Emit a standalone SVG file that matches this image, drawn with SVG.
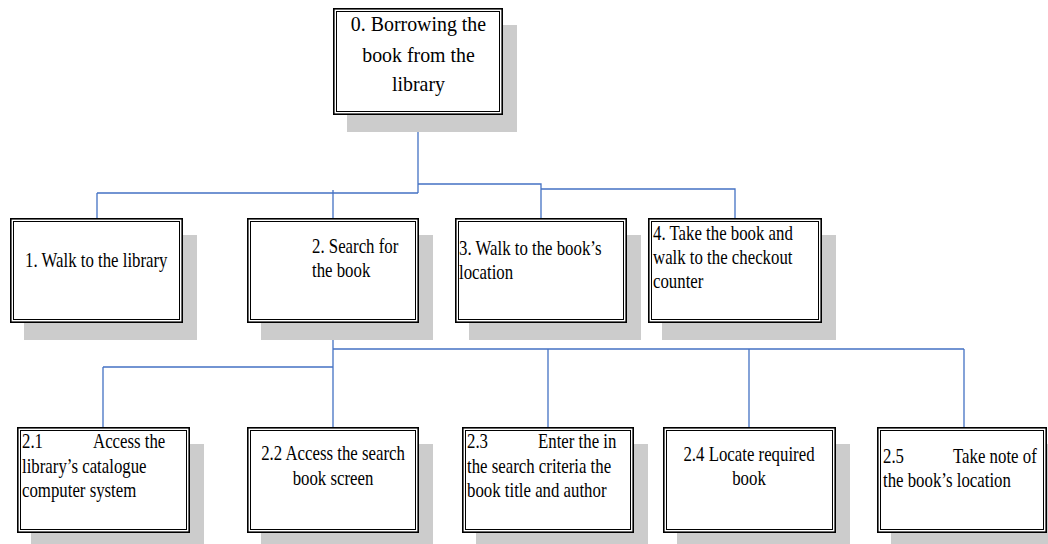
<svg xmlns="http://www.w3.org/2000/svg" width="1048" height="544" viewBox="0 0 1048 544">
<style>
.sh{fill:#cccccc;stroke:none}
.ob{fill:#ffffff;stroke:#000000;stroke-width:1.6}
.ib{fill:none;stroke:#000000;stroke-width:1}
.t{font-family:"Liberation Serif","Times New Roman",serif;font-size:20.5px;fill:#000000}
.r{font-family:"Liberation Serif","Times New Roman",serif;font-size:20.5px;fill:#000000;text-anchor:middle}
.c{text-anchor:middle}
.ln{fill:none;stroke:#4472c4;stroke-width:1.3}
</style>
<rect width="1048" height="544" fill="#ffffff"/>
<g id="connectors">
<path class="ln" d="M418 115V193M97 193H418M97 193V218M333 190V218M418 184H541V218M541 189H735V218"/>
<path class="ln" d="M333 323V427M333 349H964M103 367H333M103 367V427M548 349V427M749 349V427M964 349V427"/>
</g>
<g id="n0">
<rect class="sh" x="347" y="25" width="170" height="107"/>
<rect class="ob" x="333.8" y="8.8" width="168.4" height="105.4"/>
<rect class="ib" x="336.5" y="11.5" width="163" height="100"/>
<text class="r" transform="translate(418.5,0) scale(0.97,1)"><tspan x="0" y="31">0. Borrowing the</tspan><tspan x="0" y="62">book from the</tspan><tspan x="0" y="91">library</tspan></text>
</g>
<g id="n1">
<rect class="sh" x="24" y="235" width="173" height="105"/>
<rect class="ob" x="10.8" y="218.8" width="171.4" height="103.4"/>
<rect class="ib" x="13.5" y="221.5" width="166" height="98"/>
<text class="t" transform="translate(25,0) scale(0.82,1)"><tspan x="0" y="267">1. Walk to the library</tspan></text>
</g>
<g id="n2">
<rect class="sh" x="261" y="235" width="172" height="105"/>
<rect class="ob" x="247.8" y="218.8" width="170.4" height="103.4"/>
<rect class="ib" x="250.5" y="221.5" width="165" height="98"/>
<text class="t" transform="translate(312,0) scale(0.82,1)"><tspan x="0" y="253">2. Search for</tspan><tspan x="0" y="277">the book</tspan></text>
</g>
<g id="n3">
<rect class="sh" x="469" y="235" width="172" height="105"/>
<rect class="ob" x="455.8" y="218.8" width="170.4" height="103.4"/>
<rect class="ib" x="458.5" y="221.5" width="165" height="98"/>
<text class="t" transform="translate(459,0) scale(0.82,1)"><tspan x="0" y="255">3. Walk to the book’s</tspan><tspan x="0" y="279">location</tspan></text>
</g>
<g id="n4">
<rect class="sh" x="662" y="235" width="174" height="105"/>
<rect class="ob" x="648.8" y="218.8" width="172.4" height="103.4"/>
<rect class="ib" x="651.5" y="221.5" width="167" height="98"/>
<text class="t" transform="translate(653,0) scale(0.82,1)"><tspan x="0" y="240">4. Take the book and</tspan><tspan x="0" y="264">walk to the checkout</tspan><tspan x="0" y="288">counter</tspan></text>
</g>
<g id="n21">
<rect class="sh" x="31" y="444" width="173" height="106"/>
<rect class="ob" x="17.8" y="427.8" width="171.4" height="104.4"/>
<rect class="ib" x="20.5" y="430.5" width="166" height="99"/>
<text class="t" transform="translate(22,0) scale(0.82,1)"><tspan x="0" y="448">2.1</tspan><tspan x="86.6" y="448">Access the</tspan><tspan x="0" y="473">library’s catalogue</tspan><tspan x="0" y="497">computer system</tspan></text>
</g>
<g id="n22">
<rect class="sh" x="261" y="444" width="172" height="106"/>
<rect class="ob" x="247.8" y="427.8" width="170.4" height="104.4"/>
<rect class="ib" x="250.5" y="430.5" width="165" height="99"/>
<text class="t c" transform="translate(333,0) scale(0.82,1)"><tspan x="0" y="460">2.2 Access the search</tspan><tspan x="0" y="485">book screen</tspan></text>
</g>
<g id="n23">
<rect class="sh" x="476" y="444" width="172" height="106"/>
<rect class="ob" x="462.8" y="427.8" width="170.4" height="104.4"/>
<rect class="ib" x="465.5" y="430.5" width="165" height="99"/>
<text class="t" transform="translate(467,0) scale(0.82,1)"><tspan x="0" y="448">2.3</tspan><tspan x="86.6" y="448">Enter the in</tspan><tspan x="0" y="473">the search criteria the</tspan><tspan x="0" y="497">book title and author</tspan></text>
</g>
<g id="n24">
<rect class="sh" x="677" y="444" width="173" height="106"/>
<rect class="ob" x="663.8" y="427.8" width="171.4" height="104.4"/>
<rect class="ib" x="666.5" y="430.5" width="166" height="99"/>
<text class="t c" transform="translate(749,0) scale(0.82,1)"><tspan x="0" y="461">2.4 Locate required</tspan><tspan x="0" y="485">book</tspan></text>
</g>
<g id="n25">
<rect class="sh" x="891" y="444" width="170" height="106"/>
<rect class="ob" x="877.8" y="427.8" width="168.4" height="104.4"/>
<rect class="ib" x="880.5" y="430.5" width="163" height="99"/>
<text class="t" transform="translate(883,0) scale(0.82,1)"><tspan x="0" y="463">2.5</tspan><tspan x="85.4" y="463">Take note of</tspan><tspan x="0" y="487">the book’s location</tspan></text>
</g>
</svg>
